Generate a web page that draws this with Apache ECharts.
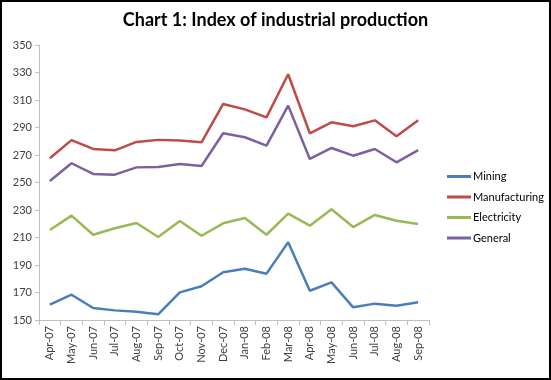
<!DOCTYPE html>
<html><head><meta charset="utf-8">
<script src="https://cdn.jsdelivr.net/npm/echarts@6/dist/echarts.min.js"></script>
<style>
html,body{margin:0;padding:0;background:#fff;}
#c{width:551px;height:380px;box-sizing:border-box;border:2px solid #000;}
</style></head>
<body><div id="c"></div>
<script>
const categories = ['Apr-07','May-07','Jun-07','Jul-07','Aug-07','Sep-07','Oct-07','Nov-07','Dec-07','Jan-08','Feb-08','Mar-08','Apr-08','May-08','Jun-08','Jul-08','Aug-08','Sep-08'];
const mining        = [161.1,168.4,158.7,157,156,154.1,170.1,174.5,184.7,187.3,183.7,206.5,171.3,177.4,159.2,161.9,160.4,162.9];
const manufacturing = [267.6,280.8,274.4,273.4,279.5,281,280.5,279.2,307.1,303.2,297.4,328.7,285.8,293.8,290.9,295.2,283.6,295.2];
const electricity   = [215.5,225.9,212,216.7,220.5,210.4,222,211.3,220.3,224.2,212,227.3,218.6,230.5,217.6,226.4,222.2,219.8];
const general       = [251.1,264,256.2,255.7,261,261.3,263.5,262,285.8,282.9,276.8,305.9,267.1,275.1,269.5,274.4,264.7,273.6];
const seriesNames = ['Mining','Manufacturing','Electricity','General'];
const colors = ['#4a7ebb','#be4b48','#98b954','#7d60a0'];
const seriesData = [mining, manufacturing, electricity, general];

const chart = echarts.init(document.getElementById('c'), null, {renderer:'canvas'});
const font = 'Lato, "Open Sans", sans-serif';
chart.setOption({
  animation:false,
  title:{text:'Chart 1: Index of industrial production', left:'center', top:4,
    textStyle:{fontFamily:font, fontWeight:'bold', fontSize:18, color:'#000'}},
  grid:{left:37, top:43, width:390, height:275, containLabel:false},
  legend:{orient:'vertical', left:440, top:164, itemWidth:24, itemHeight:3, itemGap:9.5,
    icon:'rect', data:seriesNames,
    textStyle:{fontFamily:font, fontSize:11, color:'#000', padding:[0,0,0,-3]}},
  xAxis:{type:'category', data:categories, boundaryGap:true,
    axisLine:{lineStyle:{color:'#bfbfbf', width:1}},
    axisTick:{show:true, length:5, inside:false, alignWithLabel:false, lineStyle:{color:'#bfbfbf'}},
    axisLabel:{rotate:90, interval:0, fontFamily:font, fontSize:11, color:'#404040', margin:6}},
  yAxis:{type:'value', min:150, max:350, interval:20,
    axisLine:{show:true, lineStyle:{color:'#bfbfbf'}},
    axisTick:{show:true, length:4, lineStyle:{color:'#bfbfbf'}},
    splitLine:{show:false},
    axisLabel:{fontFamily:font, fontSize:11, color:'#404040', margin:7}},
  series: seriesNames.map((n,i)=>({name:n, type:'line', data:seriesData[i], symbol:'none',
    lineStyle:{color:colors[i], width:2.5}, itemStyle:{color:colors[i]}}))
});
</script></body></html>
